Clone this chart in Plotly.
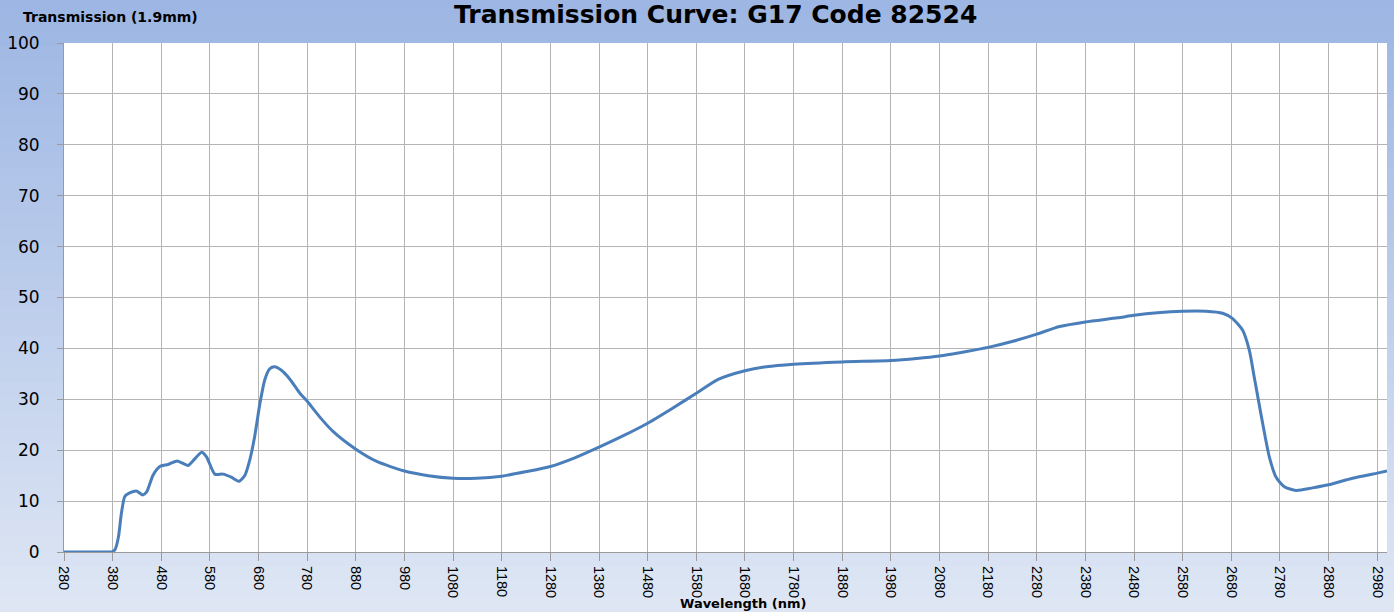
import plotly.graph_objects as go

# ---- data ----
wavelength_nm = [280, 330, 375, 380, 385, 392, 398, 405, 415, 429, 442, 450, 463, 477,
                 494, 513, 535, 547, 563, 573, 590, 607, 624, 640, 652, 662, 672, 683,
                 693, 703, 713, 727, 744, 765, 780, 806, 833, 880, 923, 980, 1029, 1080,
                 1128, 1180, 1231, 1280, 1330, 1380, 1429, 1480, 1532, 1580, 1625, 1680,
                 1724, 1780, 1880, 1980, 2033, 2080, 2135, 2180, 2231, 2280, 2327, 2380,
                 2446, 2480, 2528, 2580, 2628, 2662, 2682, 2703, 2717, 2727, 2737, 2747,
                 2758, 2772, 2789, 2813, 2847, 2880, 2929, 2980, 3000]
transmission = [0, 0, 0, 0.1, 0.5, 3, 7.6, 10.9, 11.6, 12.0, 11.2, 11.8, 15.1, 16.8,
                17.2, 17.9, 17.0, 18.1, 19.6, 18.7, 15.3, 15.3, 14.7, 13.9, 15.1, 18.1, 22.7, 29.3,
                33.9, 36.0, 36.4, 35.7, 34.0, 31.2, 29.6, 26.5, 23.7, 20.2, 17.8, 15.9, 15.0, 14.5,
                14.5, 14.9, 15.8, 16.8, 18.5, 20.6, 22.8, 25.3, 28.3, 31.2, 33.9, 35.6,
                36.4, 36.9, 37.35, 37.6, 38.0, 38.5, 39.4, 40.2, 41.4, 42.8, 44.3, 45.2,
                46.0, 46.5, 47.0, 47.3, 47.3, 46.9, 45.9, 43.6, 39.6, 34.4, 29.1, 23.9,
                18.7, 14.7, 12.8, 12.1, 12.6, 13.2, 14.5, 15.5, 15.9]

title_text = "Transmission Curve: G17 Code 82524"
y_title = "Transmission (1.9mm)"
x_title = "Wavelength (nm)"

W, H = 1394, 612
L, R, T, B = 64, 7, 43, 60
pw, ph = W - L - R, H - T - B

def px_to_paper_x(px):
    return (px - L) / pw

def px_to_paper_y(py):
    return (H - B - py) / ph

fig = go.Figure()
fig.add_trace(go.Scatter(
    x=wavelength_nm, y=transmission, mode="lines",
    line=dict(color="#4a7ebb", width=3, shape="spline", smoothing=0.6),
    hoverinfo="x+y", showlegend=False,
))

# vertical gradient background built from bands
shapes = []
n = 40
top_rgb = (157, 182, 227)
bot_rgb = (222, 230, 244)
for i in range(n):
    f = i / (n - 1)
    c = tuple(int(round(top_rgb[k] + (bot_rgb[k] - top_rgb[k]) * f)) for k in range(3))
    y0 = H * i / n
    y1 = H * (i + 1) / n + 1
    shapes.append(dict(type="rect", xref="paper", yref="paper", layer="below",
                       x0=px_to_paper_x(0), x1=px_to_paper_x(W),
                       y0=px_to_paper_y(y1), y1=px_to_paper_y(y0),
                       line=dict(width=0), fillcolor="rgb(%d,%d,%d)" % c))
# white plotting area on top of the gradient
shapes.append(dict(type="rect", xref="paper", yref="paper", layer="below",
                   x0=0, x1=1, y0=0, y1=1, line=dict(width=0), fillcolor="white"))

fig.update_layout(
    width=W, height=H, autosize=False,
    margin=dict(l=L, r=R, t=T, b=B, pad=0),
    paper_bgcolor="rgb(190,205,235)",
    plot_bgcolor="white",
    shapes=shapes,
    font=dict(family="DejaVu Sans", color="black"),
    xaxis=dict(
        range=[280, 3000], tick0=280, dtick=100, tickmode="linear",
        showgrid=True, gridcolor="#b4b4b4", gridwidth=1,
        ticks="outside", ticklen=8, tickcolor="#9a9a9a",
        tickangle=90, tickfont=dict(family="Liberation Sans", size=14.5, color="black"),
        ticklabelstandoff=2, automargin=False,
        showline=True, linecolor="#9a9a9a", linewidth=1,
        zeroline=False,
    ),
    yaxis=dict(
        range=[0, 100], tick0=0, dtick=10, tickmode="linear",
        showgrid=True, gridcolor="#b4b4b4", gridwidth=1,
        ticks="outside", ticklen=6, tickcolor="#9a9a9a",
        tickfont=dict(family="DejaVu Sans", size=17, color="black"),
        ticklabelstandoff=14, automargin=False,
        showline=True, linecolor="#9a9a9a", linewidth=1,
        zeroline=False,
    ),
    annotations=[
        dict(text="<b>%s</b>" % title_text, xref="paper", yref="paper",
             x=px_to_paper_x(715), y=px_to_paper_y(-2), xanchor="center", yanchor="top",
             showarrow=False, font=dict(family="DejaVu Sans", size=25, color="black")),
        dict(text="<b>%s</b>" % y_title, xref="paper", yref="paper",
             x=px_to_paper_x(21), y=px_to_paper_y(17), xanchor="left", yanchor="middle",
             showarrow=False, font=dict(family="DejaVu Sans", size=14, color="black")),
        dict(text="<b>%s</b>" % x_title, xref="paper", yref="paper",
             x=px_to_paper_x(743), y=px_to_paper_y(613), xanchor="center", yanchor="bottom",
             showarrow=False, font=dict(family="DejaVu Sans", size=13, color="black")),
    ],
)

fig.write_html("out.html", config={"displayModeBar": False},
               post_script="document.body.style.margin='0';document.body.style.padding='0';")
